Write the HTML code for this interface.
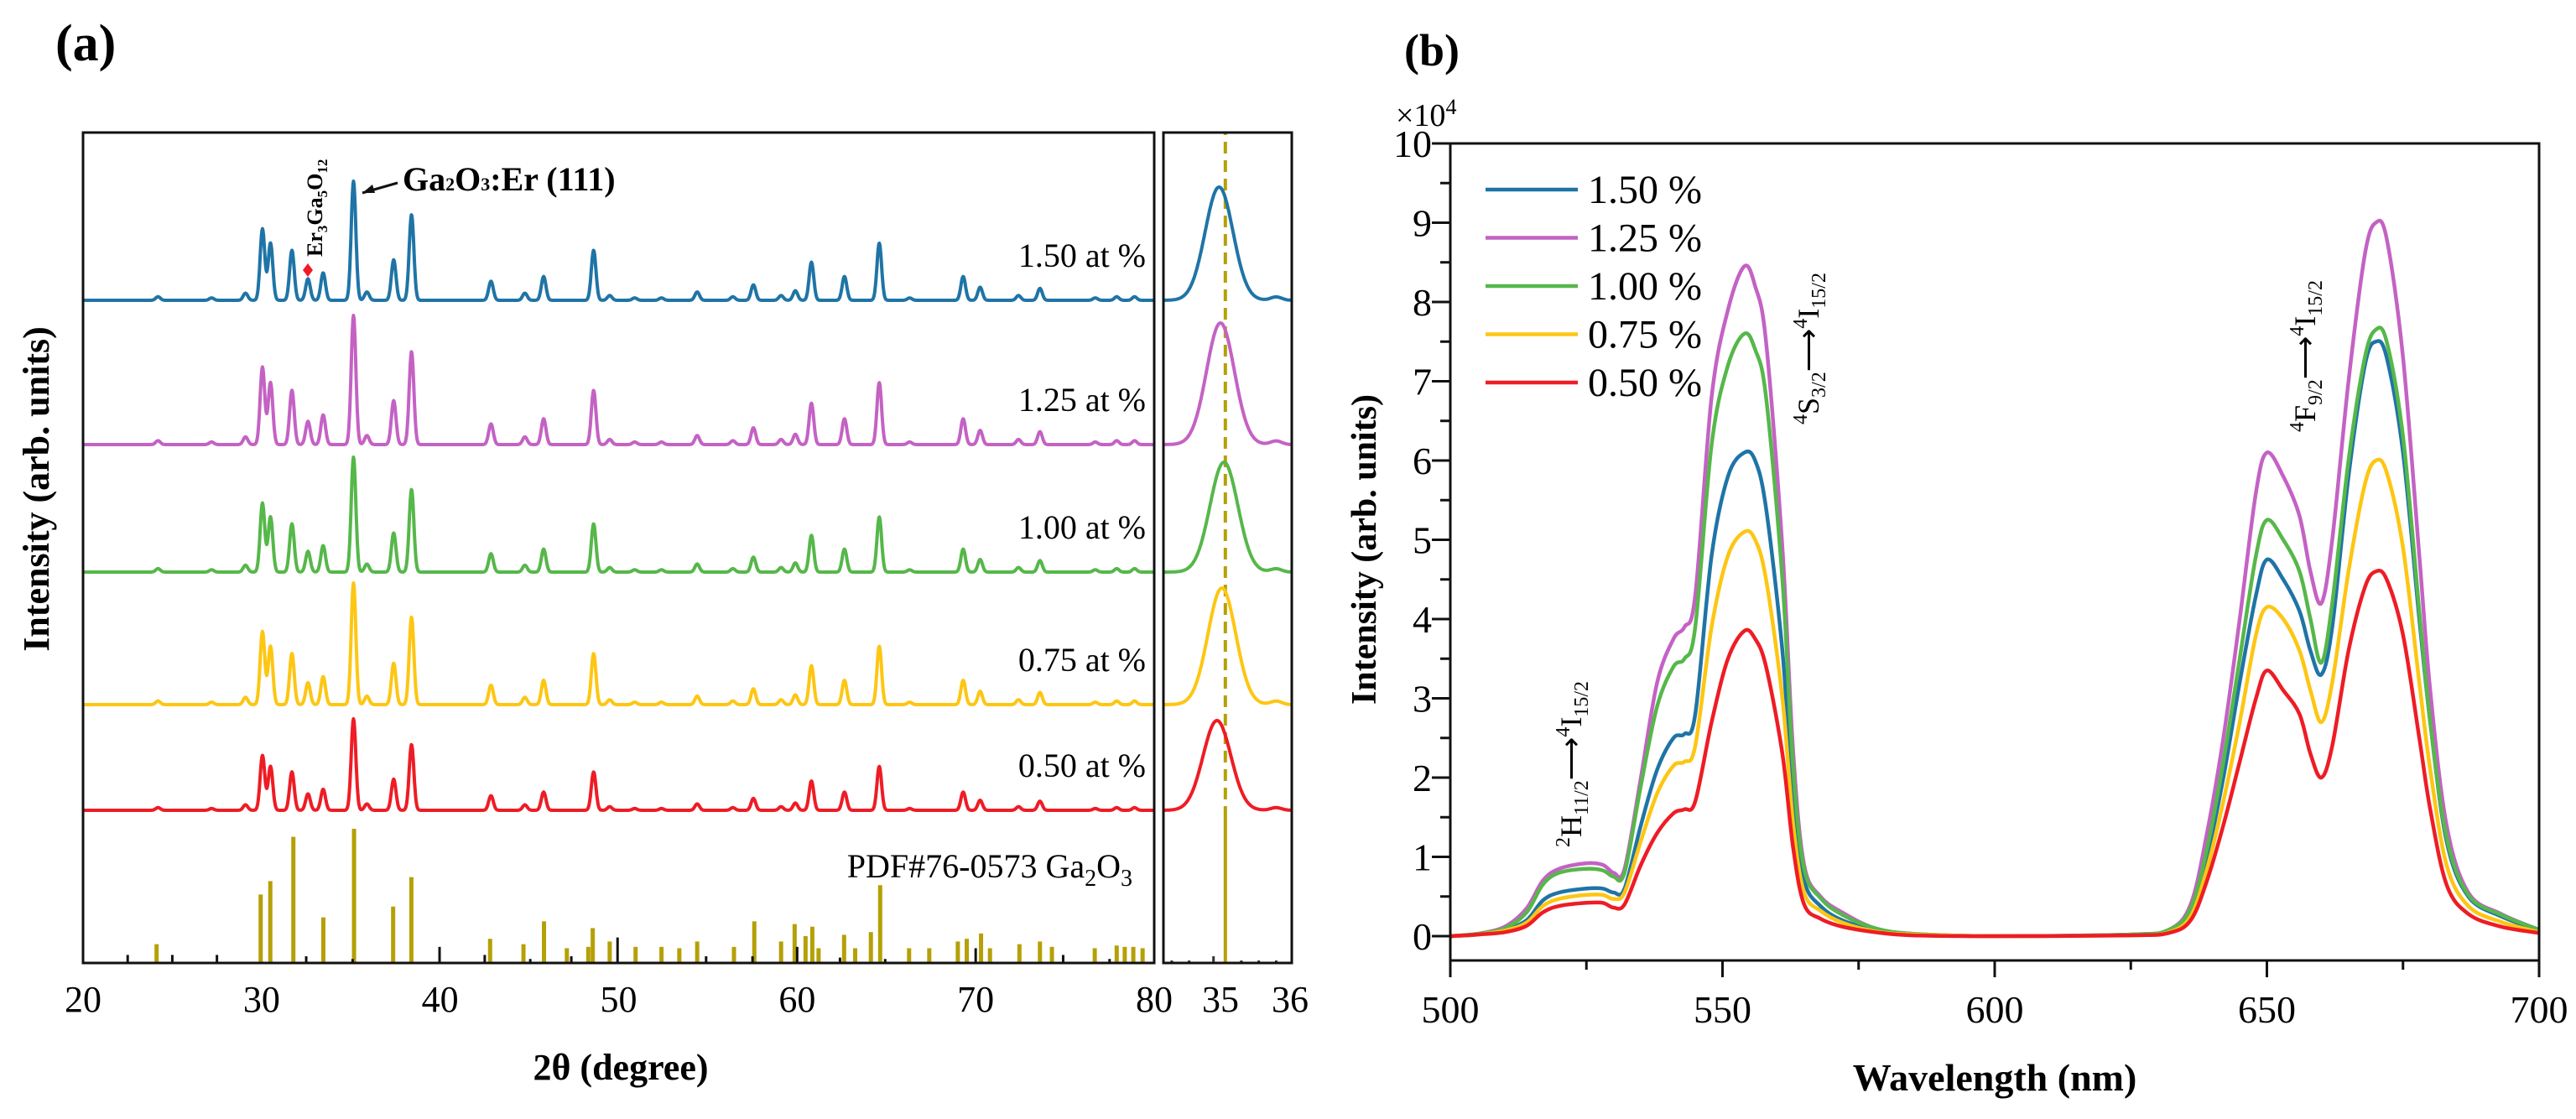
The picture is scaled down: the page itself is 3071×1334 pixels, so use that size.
<!DOCTYPE html>
<html><head><meta charset="utf-8"><style>
html,body{margin:0;padding:0;background:#fff;}
svg{display:block;font-family:"Liberation Serif",serif;}
</style></head><body>
<svg id="fig" xmlns="http://www.w3.org/2000/svg" width="3071" height="1334" viewBox="0 0 3071 1334">
<rect width="3071" height="1334" fill="#fff"/>
<g id="pa"></g>
<g id="pb"></g>
</svg>
<script>
// ---------- Panel (a) data ----------
const xrdSamples = ["1.50 at %","1.25 at %","1.00 at %","0.75 at %","0.50 at %"];
const xrdColors = ["#1f74a6","#c462c4","#56b74a","#fdc613","#ee1c25"];
const xrdOffsets = [790,618,466,308,182];
const xrdScale = [142,154,137,145,109];
const peakPos = [24.2,27.2,29.1,30.05,30.5,31.7,32.6,33.45,35.15,35.9,37.4,38.4,42.85,44.75,45.8,48.6,49.5,50.9,52.4,54.4,56.4,57.55,59.1,59.9,60.8,62.65,64.6,66.3,69.3,70.25,72.4,73.6,76.7,77.9,78.9];
const peakRel = [0.03,0.02,0.06,0.6,0.48,0.42,0.18,0.23,1,0.07,0.34,0.72,0.16,0.06,0.2,0.42,0.04,0.02,0.02,0.07,0.03,0.13,0.04,0.08,0.32,0.2,0.48,0.02,0.2,0.11,0.04,0.1,0.02,0.03,0.03];
const refGoldPos = [24.12,29.95,30.49,31.78,33.46,35.18,37.37,38.39,42.8,44.67,45.82,47.1,48.3,48.55,49.5,50.95,52.4,53.4,54.4,56.46,57.6,59.1,59.86,60.47,60.85,61.2,62.63,63.25,64.13,64.65,66.27,67.4,69.0,69.5,70.3,70.8,72.45,73.6,74.27,76.67,77.9,78.35,78.83,79.35];
const refGoldInt = [14,51,61,94,34,100,42,64,18,14,31,11,12,26,16,12,12,11,16,12,31,16,29,20,27,11,21,11,23,58,11,11,16,18,22,11,14,16,12,11,13,12,12,11];
const refBlackPos = [22.5,25.0,27.5,32.5,35.1,39.97,42.5,45.05,47.35,49.94,54.9,57.5,60.0,62.4,64.93,70.0,74.9,77.5];
const refBlackInt = [6,6,6,5,3,12,6,3,5,19,5,5,12,4,3,11,6,3];
const insetCenter = [34.98,35.0,35.05,35.02,34.95];
const insetHeight = [135,145,131,139,107];
const insetTickPos = [34.3,34.55,34.9,35.3,35.55,35.8];
const insetTickInt = [3,3,8,3,3,3];
const xTicksA = [20,30,40,50,60,70,80];
const xTicksInset = [35,36];

// ---------- Panel (b) data ----------
const plSamples = ["1.50 %","1.25 %","1.00 %","0.75 %","0.50 %"];
const plColors = ["#1f74a6","#c462c4","#56b74a","#fdc613","#ee1c25"];
const wl = [500,505,510,514,517,520,525,528,530,532,535,538,541,543,545,548,551,554,556,558,561,563,565,568,572,578,585,600,625,632,636,639,642,645,648,650,653,656,658,660,662,665,668,670,672,675,678,680,683,687,693,700];
const pl150 = [0,0.02,0.08,0.2,0.45,0.55,0.6,0.6,0.55,0.6,1.4,2.1,2.5,2.55,2.8,4.8,5.8,6.1,6.0,5.4,3.6,1.7,0.7,0.38,0.2,0.08,0.02,0,0.02,0.07,0.3,1.0,2.0,3.2,4.3,4.75,4.5,4.1,3.6,3.3,3.9,5.8,7.2,7.5,7.3,6.1,4.0,2.7,1.2,0.5,0.25,0.07];
const pl125 = [0,0.03,0.12,0.35,0.7,0.85,0.92,0.9,0.8,0.85,2.0,3.2,3.75,3.9,4.3,6.8,7.9,8.45,8.2,7.5,4.9,2.3,0.9,0.5,0.3,0.1,0.03,0,0.02,0.08,0.4,1.3,2.5,4.0,5.6,6.1,5.8,5.3,4.6,4.2,5.0,7.0,8.6,9.0,8.8,7.3,4.8,3.1,1.4,0.55,0.28,0.08];
const pl100 = [0,0.03,0.1,0.3,0.65,0.8,0.85,0.83,0.75,0.8,1.9,2.9,3.4,3.5,3.9,6.2,7.2,7.6,7.4,6.8,4.5,2.1,0.85,0.48,0.27,0.1,0.03,0,0.02,0.08,0.35,1.1,2.2,3.5,4.8,5.25,5.0,4.6,4.0,3.45,4.2,6.0,7.3,7.65,7.5,6.3,4.1,2.7,1.25,0.52,0.27,0.08];
const pl075 = [0,0.02,0.07,0.17,0.38,0.47,0.52,0.52,0.47,0.55,1.2,1.8,2.15,2.2,2.4,3.9,4.8,5.1,5.0,4.5,3.0,1.4,0.55,0.32,0.17,0.06,0.02,0,0.01,0.05,0.25,0.85,1.7,2.7,3.8,4.15,4.0,3.6,3.1,2.7,3.2,4.6,5.7,6.0,5.85,4.9,3.2,2.1,0.9,0.38,0.18,0.05];
const pl050 = [0,0.02,0.05,0.13,0.3,0.38,0.42,0.42,0.36,0.4,0.9,1.3,1.55,1.6,1.7,2.7,3.5,3.85,3.75,3.4,2.3,1.1,0.4,0.22,0.12,0.05,0.01,0,0.01,0.04,0.2,0.7,1.4,2.2,3.0,3.35,3.1,2.8,2.3,2.0,2.4,3.6,4.4,4.6,4.5,3.8,2.5,1.6,0.65,0.28,0.12,0.04];
const plSeries = [pl150,pl125,pl100,pl075,pl050];
const yTicksB = [0,1,2,3,4,5,6,7,8,9,10];
const xTicksB = [500,550,600,650,700];

const NS="http://www.w3.org/2000/svg";
function mk(parent,tag,attrs,text){const e=document.createElementNS(NS,tag);for(const k in attrs)e.setAttribute(k,attrs[k]);if(text!==undefined)e.textContent=text;parent.appendChild(e);return e;}

// ---------- Panel (a) ----------
const pa=document.getElementById('pa');
const AX0=99,AX1=1376,AY0=158,AY1=1148;
const xa=d=>AX0+(d-20)*(AX1-AX0)/60;
const IX0=1387,IX1=1540;
const xi=d=>1455+(d-35)*83;
const ya=(off,v)=>AY1-off-v;

let t=mk(pa,'text',{x:66,y:72,'font-size':62,'font-weight':'bold'},'(a)');



refGoldPos.forEach((p,i)=>{
  const l=mk(pa,'line',{x1:xa(p),x2:xa(p),y1:AY1,y2:ya(0,refGoldInt[i]*1.6),stroke:'#b5a006','stroke-width':5});
  
  
});
refBlackPos.forEach((p,i)=>{
  const l=mk(pa,'line',{x1:xa(p),x2:xa(p),y1:AY1,y2:ya(0,refBlackInt[i]*1.6),stroke:'#111','stroke-width':3});
  
  
});

function xrdVal(d,s){let v=0;for(let k=0;k<peakPos.length;k++){const z=(d-peakPos[k])/0.13;v+=peakRel[k]*Math.exp(-0.5*z*z);}return v*xrdScale[s];}
xrdSamples.forEach((nm,s)=>{
  let dstr='';
  for(let d=20;d<=80.001;d+=0.03){dstr+=(dstr?'L':'M')+xa(d).toFixed(1)+','+ya(xrdOffsets[s],xrdVal(d,s)).toFixed(1);}
  const p=mk(pa,'path',{d:dstr,fill:'none',stroke:xrdColors[s],'stroke-width':4,'stroke-linejoin':'round'});
  
  
  const lb=mk(pa,'text',{x:1366,y:ya(xrdOffsets[s],0)-40,'font-size':40,'text-anchor':'end'},nm);
  
  
});
t=mk(pa,'text',{x:1350,y:1046,'font-size':40,'text-anchor':'end'});


t.innerHTML='PDF#76-0573 Ga<tspan font-size="28" dy="10">2</tspan><tspan dy="-10">O</tspan><tspan font-size="28" dy="10">3</tspan>';

t=mk(pa,'text',{x:480,y:227,'font-size':40,'font-weight':'bold'});


t.innerHTML='Ga<tspan font-size="22">2</tspan>O<tspan font-size="22">3</tspan>:Er (111)';
t=mk(pa,'path',{d:'M474,218 L432,230',stroke:'#111','stroke-width':3,fill:'none'});


t=mk(pa,'path',{d:'M432,230 l12,-10 l3,10 z',fill:'#111'});


t=mk(pa,'text',{x:0,y:0,'font-size':26,'font-weight':'bold',transform:'translate(384,306) rotate(-90)'});


t.innerHTML='Er<tspan font-size="17" dy="6">3</tspan><tspan dy="-6">Ga</tspan><tspan font-size="17" dy="6">5</tspan><tspan dy="-6">O</tspan><tspan font-size="17" dy="6">12</tspan>';
t=mk(pa,'path',{d:'M367,314 l6,8 l-6,8 l-6,-8 z',fill:'#ee1c25'});



t=mk(pa,'rect',{x:AX0,y:AY0,width:AX1-AX0,height:AY1-AY0,fill:'none',stroke:'#111','stroke-width':3});


xTicksA.forEach(v=>{
  const tl=mk(pa,'text',{x:xa(v),y:1206,'font-size':44,'text-anchor':'middle'},String(v));
  
  
});
t=mk(pa,'text',{x:740,y:1287,'font-size':44,'font-weight':'bold','text-anchor':'middle'},'2θ (degree)');


t=mk(pa,'text',{x:0,y:0,'font-size':44,'font-weight':'bold','text-anchor':'middle',transform:'translate(58,583) rotate(-90)'},'Intensity (arb. units)');



insetTickPos.forEach((p,i)=>{
  const l=mk(pa,'line',{x1:xi(p),x2:xi(p),y1:AY1,y2:AY1-insetTickInt[i],stroke:'#333','stroke-width':3});
  
  
});
t=mk(pa,'line',{x1:xi(35.07),x2:xi(35.07),y1:AY1,y2:975,stroke:'#b5a006','stroke-width':4});


t=mk(pa,'line',{x1:xi(35.07),x2:xi(35.07),y1:975,y2:AY0,stroke:'#b5a006','stroke-width':4,'stroke-dasharray':'14,8'});


xrdSamples.forEach((nm,s)=>{
  let dstr='';
  for(let d=34.18;d<=36.02;d+=0.01){const z=(d-insetCenter[s])/0.2,z2=(d-35.8)/0.08;const v=insetHeight[s]*(Math.exp(-0.5*z*z)+0.03*Math.exp(-0.5*z2*z2));dstr+=(dstr?'L':'M')+xi(d).toFixed(1)+','+ya(xrdOffsets[s],v).toFixed(1);}
  const p=mk(pa,'path',{d:dstr,fill:'none',stroke:xrdColors[s],'stroke-width':4});
  
  
});
t=mk(pa,'rect',{x:IX0,y:AY0,width:IX1-IX0,height:AY1-AY0,fill:'none',stroke:'#111','stroke-width':3});


xTicksInset.forEach(v=>{
  const tl=mk(pa,'text',{x:xi(v),y:1206,'font-size':44,'text-anchor':'middle'},String(v));
  
  
});

// ---------- Panel (b) ----------
const pb=document.getElementById('pb');
const BX0=1729,BX1=3027,BY0=171,BY1=1145;
const xb=w=>BX0+(w-500)*(BX1-BX0)/200;
const yb=v=>1116-v*94.5;

t=mk(pb,'text',{x:1674,y:78,'font-size':54,'font-weight':'bold'},'(b)');


t=mk(pb,'text',{x:1664,y:150,'font-size':38});


t.innerHTML='×10<tspan font-size="26" dy="-14">4</tspan>';

plSeries.forEach((arr,s)=>{
  const pts=wl.map((w,i)=>[xb(w),yb(arr[i])]);
  let d='M'+pts[0][0]+','+pts[0][1];
  for(let i=0;i<pts.length-1;i++){
    const p0=pts[Math.max(0,i-1)],p1=pts[i],p2=pts[i+1],p3=pts[Math.min(pts.length-1,i+2)];
    const c1=[p1[0]+(p2[0]-p0[0])/6,p1[1]+(p2[1]-p0[1])/6],c2=[p2[0]-(p3[0]-p1[0])/6,p2[1]-(p3[1]-p1[1])/6];
    d+='C'+c1.map(n=>n.toFixed(1)).join(',')+' '+c2.map(n=>n.toFixed(1)).join(',')+' '+p2.map(n=>n.toFixed(1)).join(',');
  }
  const p=mk(pb,'path',{d:d,fill:'none',stroke:plColors[s],'stroke-width':4.5,'stroke-linejoin':'round'});
  
  
});

plSamples.forEach((nm,s)=>{
  const y=226+s*57.5;
  const l=mk(pb,'line',{x1:1771,x2:1881,y1:y,y2:y,stroke:plColors[s],'stroke-width':4.5});
  
  
  const tx=mk(pb,'text',{x:1893,y:y+16,'font-size':48},nm);
  
  
});

t=mk(pb,'rect',{x:BX0,y:BY0,width:BX1-BX0,height:BY1-BY0,fill:'none',stroke:'#111','stroke-width':3});


yTicksB.forEach(v=>{
  const l=mk(pb,'line',{x1:BX0-22,x2:BX0,y1:yb(v),y2:yb(v),stroke:'#111','stroke-width':3});
  
  
  if(v<10){const m=mk(pb,'line',{x1:BX0-12,x2:BX0,y1:yb(v+0.5),y2:yb(v+0.5),stroke:'#111','stroke-width':3});
  
  }
  const tl=mk(pb,'text',{x:1707,y:yb(v)+16,'font-size':46,'text-anchor':'end'},String(v));
  
  
});
xTicksB.forEach(v=>{
  const l=mk(pb,'line',{x1:xb(v),x2:xb(v),y1:BY1,y2:BY1+20,stroke:'#111','stroke-width':3});
  
  
  if(v<700){const m=mk(pb,'line',{x1:xb(v+25),x2:xb(v+25),y1:BY1,y2:BY1+11,stroke:'#111','stroke-width':3});
  
  }
  const tl=mk(pb,'text',{x:xb(v),y:1219,'font-size':46,'text-anchor':'middle'},String(v));
  
  
});
t=mk(pb,'text',{x:2378,y:1300,'font-size':46,'font-weight':'bold','text-anchor':'middle'},'Wavelength (nm)');


t=mk(pb,'text',{x:0,y:0,'font-size':42,'font-weight':'bold','text-anchor':'middle',transform:'translate(1640,655) rotate(-90)'},'Intensity (arb. units)');



function trans(x,y,upper,lower,label){
  const g=mk(pb,'text',{x:0,y:0,'font-size':36,transform:'translate('+x+','+y+') rotate(-90)'});
  
  
  g.innerHTML='<tspan font-size="24" dy="-14">'+upper[0]+'</tspan><tspan dy="14">'+upper[1]+'</tspan><tspan font-size="24" dy="8">'+upper[2]+'</tspan><tspan dy="-8">⟶</tspan><tspan font-size="24" dy="-14">'+lower[0]+'</tspan><tspan dy="14">'+lower[1]+'</tspan><tspan font-size="24" dy="8">'+lower[2]+'</tspan>';
}
trans(1885,1010,['2','H','11/2'],['4','I','15/2'],'transition-2h11-label');
trans(2168,506,['4','S','3/2'],['4','I','15/2'],'transition-4s32-label');
trans(2760,515,['4','F','9/2'],['4','I','15/2'],'transition-4f92-label');
</script>
</body></html>
